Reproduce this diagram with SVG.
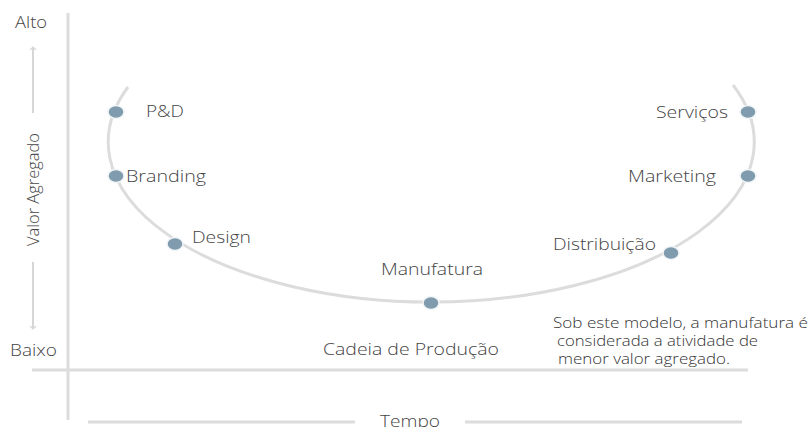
<svg xmlns="http://www.w3.org/2000/svg" width="812" height="427" viewBox="0 0 812 427">
<defs>
<style>
.ax{stroke:#dcdcdc;stroke-width:3;fill:none}
.t{font-family:"Open Sans","DejaVu Sans",sans-serif;font-size:16.5px;font-weight:300;fill:#444444}
.n{font-family:"Open Sans","DejaVu Sans",sans-serif;font-size:14px;font-weight:300;fill:#333333}
.dot{fill:#7f9bad;stroke:#f2f5f7;stroke-width:1.5}
</style>
<marker id="ah" viewBox="0 0 10 10" refX="5" refY="5" markerWidth="8" markerHeight="8" orient="auto-start-reverse" markerUnits="userSpaceOnUse">
<path d="M1,1 L5,5 L1,9" fill="none" stroke="#d6d6d6" stroke-width="1.5"/>
</marker>
</defs>
<rect width="812" height="427" fill="#ffffff"/>
<g id="axes">
<line class="ax" x1="68" y1="13" x2="68" y2="420"/>
<line class="ax" x1="32" y1="370" x2="748" y2="370"/>
<line class="ax" x1="88" y1="422" x2="355" y2="422"/>
<line class="ax" x1="465" y1="422" x2="742" y2="422"/>
<line x1="33" y1="113" x2="33" y2="47" stroke="#d6d6d6" stroke-width="2" marker-end="url(#ah)"/>
<line x1="33" y1="262" x2="33" y2="329" stroke="#d6d6d6" stroke-width="2" marker-end="url(#ah)"/>
<text class="t" x="15" y="28" textLength="32" lengthAdjust="spacingAndGlyphs">Alto</text>
<text class="t" x="10" y="356" textLength="47" lengthAdjust="spacingAndGlyphs">Baixo</text>
<text class="t" x="-246" y="39" transform="rotate(-90)" textLength="113" lengthAdjust="spacingAndGlyphs">Valor Agregado</text>
<text class="t" x="380" y="427" textLength="60" lengthAdjust="spacingAndGlyphs">Tempo</text>
<text class="t" x="323" y="355" textLength="176" lengthAdjust="spacingAndGlyphs">Cadeia de Produção</text>
</g>
<g id="connectors">
<path class="ax" d="M128,87 A323,160 0 1 0 733,85"/>
</g>
<g id="node-pd"><ellipse class="dot" cx="116" cy="112" rx="8" ry="6.5"/><text class="t" x="146" y="117" textLength="38" lengthAdjust="spacingAndGlyphs">P&amp;D</text></g>
<g id="node-branding"><ellipse class="dot" cx="116" cy="176" rx="8" ry="6.5"/><text class="t" x="126" y="182" textLength="80" lengthAdjust="spacingAndGlyphs">Branding</text></g>
<g id="node-design"><ellipse class="dot" cx="175" cy="244" rx="8" ry="6.5"/><text class="t" x="192" y="243" textLength="59" lengthAdjust="spacingAndGlyphs">Design</text></g>
<g id="node-manufatura"><ellipse class="dot" cx="431" cy="303" rx="8" ry="6.5"/><text class="t" x="381" y="275" textLength="102" lengthAdjust="spacingAndGlyphs">Manufatura</text></g>
<g id="node-distribuicao"><ellipse class="dot" cx="671" cy="253" rx="8" ry="6.5"/><text class="t" x="553" y="250" textLength="103" lengthAdjust="spacingAndGlyphs">Distribuição</text></g>
<g id="node-marketing"><ellipse class="dot" cx="748" cy="176" rx="8" ry="6.5"/><text class="t" x="628" y="182" textLength="88" lengthAdjust="spacingAndGlyphs">Marketing</text></g>
<g id="node-servicos"><ellipse class="dot" cx="748" cy="112" rx="8" ry="6.5"/><text class="t" x="656" y="118" textLength="72" lengthAdjust="spacingAndGlyphs">Serviços</text></g>
<g id="note">
<text class="n" x="553" y="328" textLength="255" lengthAdjust="spacingAndGlyphs">Sob este modelo, a manufatura é</text>
<text class="n" x="557" y="346" textLength="201" lengthAdjust="spacingAndGlyphs">considerada a atividade de</text>
<text class="n" x="558" y="364" textLength="172" lengthAdjust="spacingAndGlyphs">menor valor agregado.</text>
</g>
</svg>
